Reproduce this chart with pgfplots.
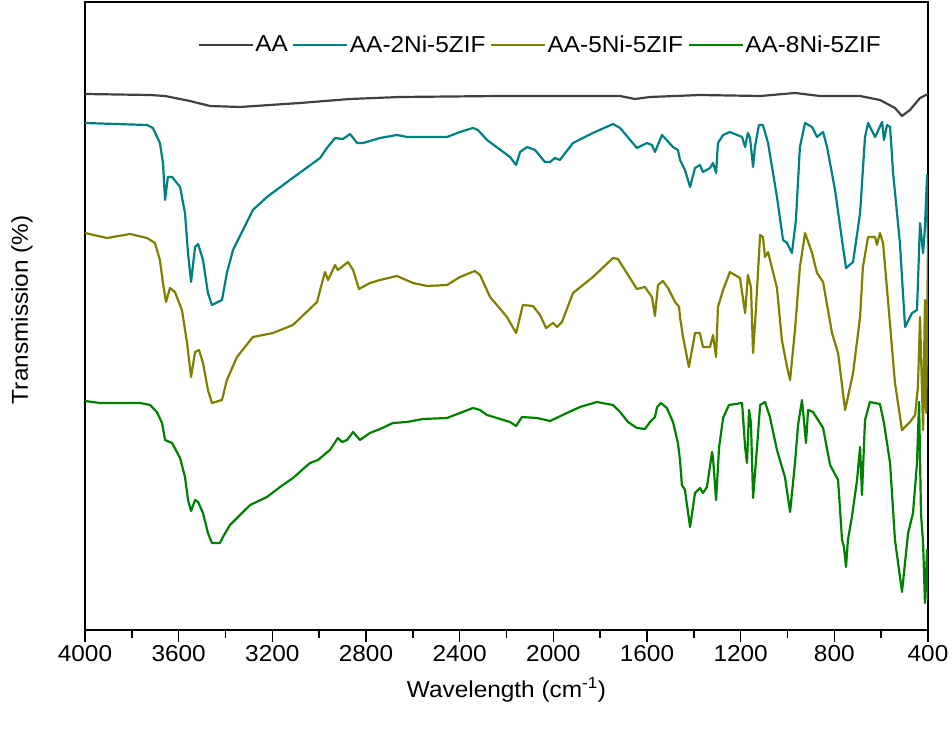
\documentclass[border=0pt]{standalone}
\usepackage{fontspec}
\setmainfont[FakeStretch=1.06]{Liberation Sans}
\usepackage{pgfplots}
\usepackage{pgfplotstable}
\pgfplotsset{compat=1.18}

\definecolor{cAA}{RGB}{64,64,64}
\definecolor{cTwo}{RGB}{0,128,128}
\definecolor{cFive}{RGB}{128,128,0}
\definecolor{cEight}{RGB}{0,128,0}

% FTIR spectra, stacked with vertical offsets (arbitrary units)
\pgfplotstableread{
w T
4000 536
3722 535
3658 534
3552 529
3466 524
3338 523
3082 527
2868 531
2655 533
2228 534
1715 534
1651 531
1587 533
1374 535
1117 534
968 537
861 534
690 534
605 530
541 522
511 514
477 520
434 532
400 536
}\tAA

\pgfplotstableread{
w T
4000 507
3735 505
3710 502
3680 487
3667 467
3658 430
3646 453
3628 453
3594 443
3573 417
3560 377
3547 348
3530 383
3517 386
3496 370
3475 337
3458 325
3415 330
3394 357
3368 380
3283 420
3223 433
3125 450
2996 472
2967 482
2932 492
2898 491
2868 496
2838 487
2813 487
2740 492
2668 495
2625 493
2454 493
2399 498
2343 502
2322 500
2283 490
2185 473
2159 465
2142 478
2112 483
2078 480
2036 468
2014 468
1993 472
1972 470
1916 487
1831 497
1745 506
1715 502
1643 482
1600 487
1579 485
1566 478
1536 495
1489 483
1468 480
1459 470
1438 460
1416 443
1395 462
1374 465
1361 458
1331 462
1318 467
1305 457
1297 487
1275 495
1246 498
1194 493
1181 483
1169 497
1160 492
1147 463
1139 483
1122 505
1105 505
1083 487
1045 433
1019 390
1002 387
981 377
964 410
947 483
925 507
895 503
874 493
848 498
831 483
797 440
763 383
750 362
720 368
690 417
669 493
656 507
626 493
596 508
588 490
575 505
562 503
549 457
520 387
498 303
468 317
447 320
434 407
421 377
413 403
404 455
400 380
}\tTwo

\pgfplotstableread{
w T
4000 397
3906 392
3808 396
3735 392
3701 387
3680 370
3667 347
3654 328
3637 342
3616 338
3586 320
3564 287
3547 253
3530 278
3513 280
3496 267
3475 240
3458 227
3415 230
3394 250
3351 273
3283 293
3197 297
3112 305
3009 328
2988 347
2975 358
2962 350
2932 365
2920 360
2877 368
2855 360
2830 341
2783 347
2740 350
2668 354
2599 347
2539 344
2454 345
2399 353
2335 359
2313 355
2270 333
2198 313
2159 297
2130 325
2087 324
2057 315
2031 302
2001 307
1984 303
1963 308
1916 337
1831 353
1745 372
1724 371
1643 341
1609 343
1579 333
1566 314
1553 345
1532 349
1510 342
1480 328
1463 323
1459 313
1446 293
1421 263
1395 297
1374 297
1361 283
1331 283
1318 295
1305 273
1297 323
1275 340
1246 358
1203 352
1181 317
1169 355
1156 343
1147 277
1135 320
1117 395
1105 393
1096 373
1083 378
1045 342
1024 290
1002 263
989 250
968 300
947 363
925 397
895 377
874 357
848 348
810 297
784 277
754 220
720 257
690 313
678 363
656 393
626 393
618 385
605 397
592 387
571 330
541 247
511 200
477 208
455 215
443 243
434 313
421 200
413 330
408 217
400 385
}\tFive

\pgfplotstableread{
w T
4000 229
3936 227
3765 227
3722 225
3693 218
3671 207
3658 190
3628 187
3594 172
3573 153
3560 130
3547 119
3530 130
3517 128
3496 117
3475 97
3458 87
3424 87
3411 93
3381 105
3295 125
3223 133
3167 143
3112 152
3039 167
3005 170
2954 180
2920 192
2902 188
2881 190
2855 198
2826 190
2783 197
2740 201
2685 207
2625 208
2557 211
2454 212
2399 217
2343 222
2313 220
2283 215
2185 208
2159 204
2134 213
2070 212
2014 209
1942 217
1886 223
1814 228
1745 225
1715 218
1681 208
1643 202
1609 201
1587 208
1566 213
1557 223
1540 227
1515 222
1489 208
1468 187
1459 170
1451 145
1438 140
1416 103
1395 137
1374 142
1361 137
1344 143
1322 178
1318 172
1305 130
1292 183
1275 212
1250 225
1194 227
1181 183
1173 167
1164 220
1156 207
1147 132
1130 183
1117 225
1096 228
1075 213
1045 180
1011 153
989 118
968 167
955 205
938 230
930 210
921 187
912 220
891 218
848 202
818 165
784 150
767 90
759 83
750 63
742 90
725 113
703 150
690 183
682 135
669 210
648 228
605 226
588 207
562 167
541 90
511 38
485 97
464 117
447 167
438 228
430 117
421 87
413 27
404 80
400 30
}\tEight

\begin{document}
\begin{tikzpicture}
\useasboundingbox (-85pt,-112pt) rectangle (867pt,630pt);
\begin{axis}[
  at={(0pt,0pt)}, anchor=south west,
  scale only axis,
  width=843pt, height=628pt,
  x dir=reverse,
  xmin=400, xmax=4000,
  ymin=0, ymax=628,
  xtick={400,800,...,4000},
  minor x tick num=1,
  ytick=\empty,
  xtick pos=bottom,
  tick align=outside,
  major tick length=12pt,
  minor tick length=8pt,
  every tick/.style={black, line width=1.5pt},
  axis line style={line width=1.6pt},
  font=\fontsize{23}{27}\selectfont,
  tick label style={font=\fontsize{23}{27}\selectfont},
  /pgf/number format/assume math mode=true,
  /pgf/number format/set thousands separator={},
  xlabel={Wavelength (cm\textsuperscript{-1})},
  ylabel={Transmission (\%)},
  xlabel style={at={(axis description cs:0.5,-0.0955)}, anchor=center},
  ylabel style={at={(axis description cs:-0.0747,0.51)}, anchor=center},
  legend columns=4,
  legend style={at={(axis description cs:0.946,0.932)}, anchor=east,
    draw=none, fill=none, inner sep=0pt, column sep=0pt,
    font=\fontsize{23}{27}\selectfont,
    nodes={inner sep=1.5pt},
    /tikz/every even column/.style={column sep=3pt}},
  legend image code/.code={\draw[#1] (0pt,0pt) -- (54pt,0pt);},
  every axis plot/.append style={line width=2.2pt, line join=round},
]
\addplot[cAA, no markers] table[x=w, y=T] {\tAA};
\addlegendentry{AA}
\addplot[cTwo, no markers] table[x=w, y=T] {\tTwo};
\addlegendentry{AA-2Ni-5ZIF}
\addplot[cFive, no markers] table[x=w, y=T] {\tFive};
\addlegendentry{AA-5Ni-5ZIF}
\addplot[cEight, no markers] table[x=w, y=T] {\tEight};
\addlegendentry{AA-8Ni-5ZIF}
\end{axis}
\end{tikzpicture}
\end{document}
